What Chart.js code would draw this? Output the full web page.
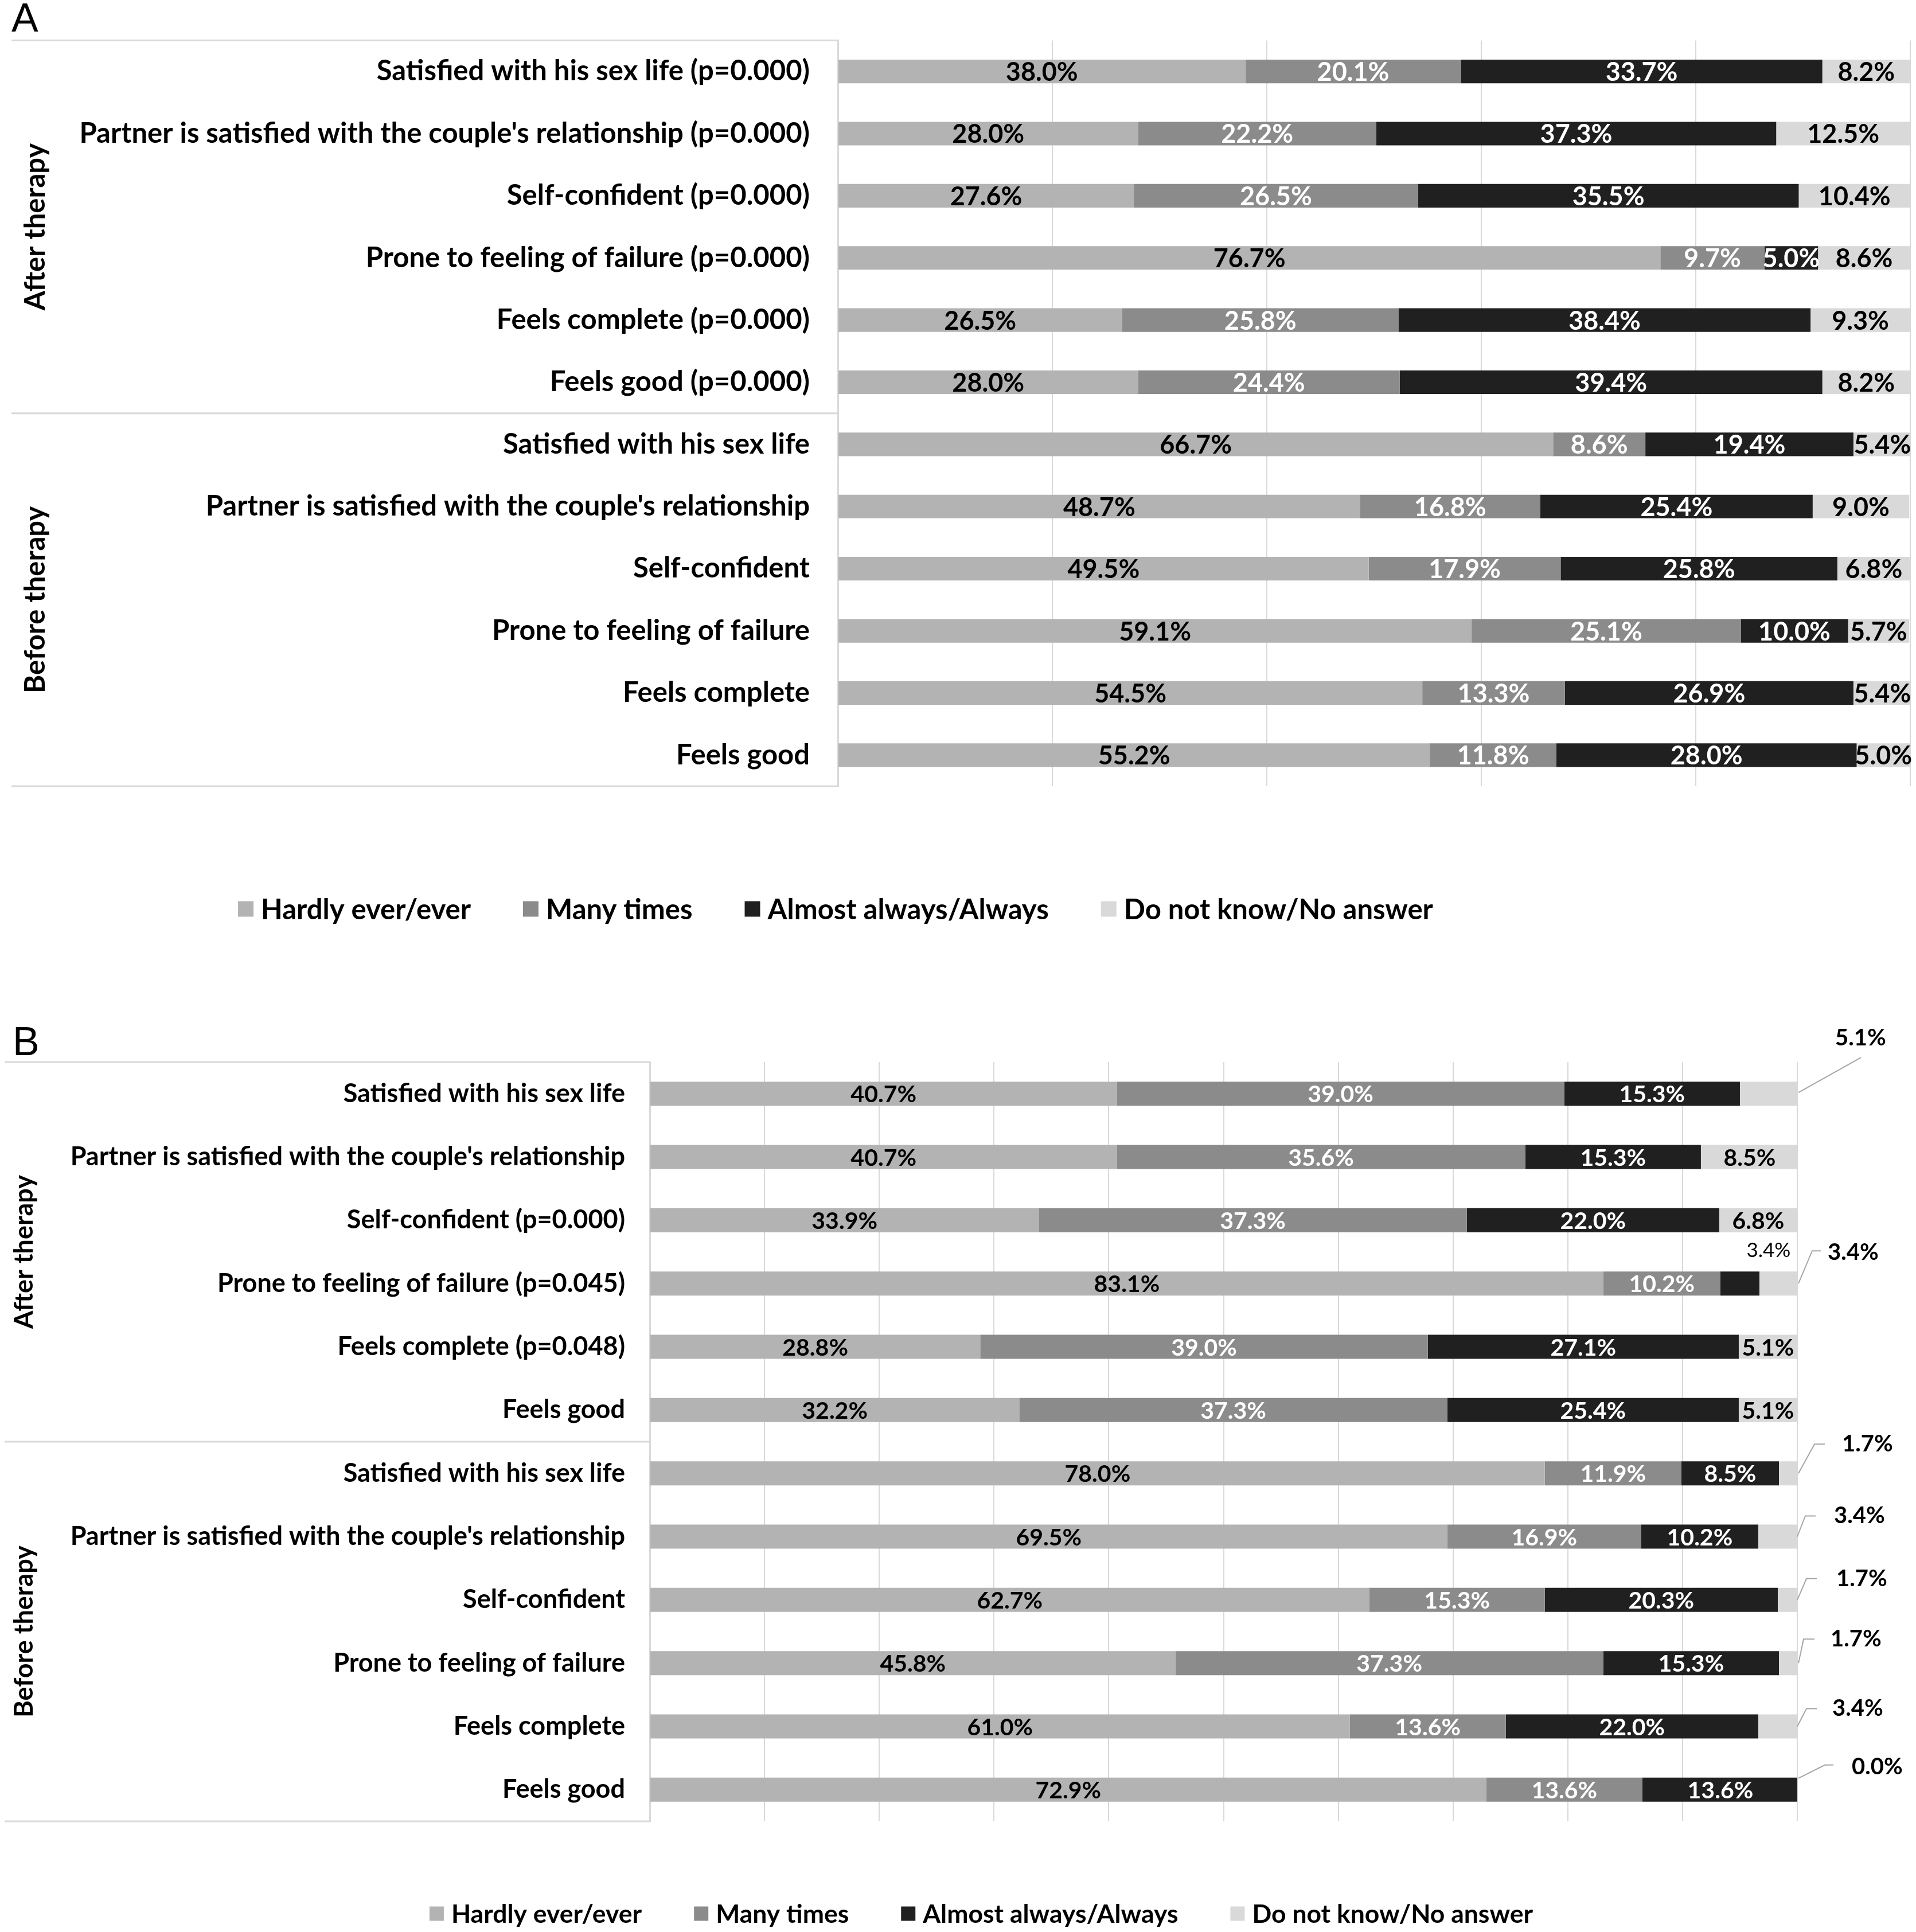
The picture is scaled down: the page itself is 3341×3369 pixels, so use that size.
<!DOCTYPE html>
<html>
<head>
<meta charset="utf-8">
<script src="https://cdn.jsdelivr.net/npm/chart.js@4.4.1/dist/chart.umd.min.js"></script>
<style>
    html, body { margin: 0; padding: 0; background: #fff; }
    body { width: 3341px; height: 3369px; position: relative; overflow: hidden; }
    canvas { position: absolute; left: 0; }
    #chart-a { top: 0; }
    #chart-b { top: 1700px; }
</style>
</head>
<body>
<canvas id="chart-a" width="3341" height="1700"></canvas>
<canvas id="chart-b" width="3341" height="1669"></canvas>
<script>
// 1. Data
const groups = ['After therapy', 'Before therapy'];
const seriesNames = ['Hardly ever/ever', 'Many times', 'Almost always/Always', 'Do not know/No answer'];

const labelsA = [
    'Satisfied with his sex life (p=0.000)',
    "Partner is satisfied with the couple's relationship (p=0.000)",
    'Self-confident (p=0.000)',
    'Prone to feeling of failure (p=0.000)',
    'Feels complete (p=0.000)',
    'Feels good (p=0.000)',
    'Satisfied with his sex life',
    "Partner is satisfied with the couple's relationship",
    'Self-confident',
    'Prone to feeling of failure',
    'Feels complete',
    'Feels good'
];
const hardlyA = [38.0, 28.0, 27.6, 76.7, 26.5, 28.0, 66.7, 48.7, 49.5, 59.1, 54.5, 55.2];
const manyA   = [20.1, 22.2, 26.5, 9.7, 25.8, 24.4, 8.6, 16.8, 17.9, 25.1, 13.3, 11.8];
const almostA = [33.7, 37.3, 35.5, 5.0, 38.4, 39.4, 19.4, 25.4, 25.8, 10.0, 26.9, 28.0];
const dnkA    = [8.2, 12.5, 10.4, 8.6, 9.3, 8.2, 5.4, 9.0, 6.8, 5.7, 5.4, 5.0];

const labelsB = [
    'Satisfied with his sex life',
    "Partner is satisfied with the couple's relationship",
    'Self-confident (p=0.000)',
    'Prone to feeling of failure (p=0.045)',
    'Feels complete (p=0.048)',
    'Feels good',
    'Satisfied with his sex life',
    "Partner is satisfied with the couple's relationship",
    'Self-confident',
    'Prone to feeling of failure',
    'Feels complete',
    'Feels good'
];
const hardlyB = [40.7, 40.7, 33.9, 83.1, 28.8, 32.2, 78.0, 69.5, 62.7, 45.8, 61.0, 72.9];
const manyB   = [39.0, 35.6, 37.3, 10.2, 39.0, 37.3, 11.9, 16.9, 15.3, 37.3, 13.6, 13.6];
const almostB = [15.3, 15.3, 22.0, 3.4, 27.1, 25.4, 8.5, 10.2, 20.3, 15.3, 22.0, 13.6];
const dnkB    = [5.1, 8.5, 6.8, 3.4, 5.1, 5.1, 1.7, 3.4, 1.7, 1.7, 3.4, 0.0];

// 2. Styles
const seriesColors = ['#b3b3b3', '#8b8b8b', '#202020', '#d9d9d9'];
const labelColors = ['#000000', '#ffffff', '#ffffff', '#000000'];
const FONT = 'Lato, "Open Sans", sans-serif';

const fmt = v => v.toFixed(1) + '%';

// 3. Plugins
const segLabels = {
    id: 'segLabels',
    afterDatasetsDraw(chart, args, o) {
        const ctx = chart.ctx;
        ctx.save();
        ctx.textAlign = 'center';
        ctx.textBaseline = 'middle';
        ctx.font = `bold ${o.size}px ${FONT}`;
        const isCallout = (ds, row) => (o.callouts || []).some(c => c.ds === ds && c.row === row)
            || (o.small || []).some(c => c.ds === ds && c.row === row);

        chart.data.datasets.forEach((ds, i) => {
            chart.getDatasetMeta(i).data.forEach((bar, j) => {
                if (isCallout(i, j)) return;
                ctx.fillStyle = labelColors[i];
                ctx.fillText(fmt(ds.data[j]), (bar.x + bar.base) / 2, bar.y + 2);
            });
        });

        // labels moved outside the bar, with leader lines
        (o.callouts || []).forEach(c => {
            const bar = chart.getDatasetMeta(c.ds).data[c.row];
            ctx.strokeStyle = '#a6a6a6';
            ctx.lineWidth = 2;
            ctx.beginPath();
            c.pts.forEach(([dx, dy], k) => {
                if (k === 0) ctx.moveTo(bar.x + dx, bar.y + dy);
                else ctx.lineTo(bar.x + dx, bar.y + dy);
            });
            ctx.stroke();
            ctx.fillStyle = '#000';
            ctx.textAlign = 'left';
            ctx.font = `bold ${o.calloutSize}px ${FONT}`;
            ctx.fillText(fmt(chart.data.datasets[c.ds].data[c.row]), bar.x + c.lx, bar.y + c.ly);
        });

        (o.small || []).forEach(c => {
            const bar = chart.getDatasetMeta(c.ds).data[c.row];
            ctx.fillStyle = '#000';
            ctx.textAlign = 'center';
            ctx.font = `${o.smallSize}px ${FONT}`;
            ctx.fillText(fmt(chart.data.datasets[c.ds].data[c.row]), bar.x + c.dx, bar.y + c.dy);
        });
        ctx.restore();
    }
};

const panelDeco = {
    id: 'panelDeco',
    afterDraw(chart, args, o) {
        const { ctx, chartArea: ca, scales: { y } } = chart;
        ctx.save();

        // panel letter
        ctx.fillStyle = '#000';
        ctx.font = `${o.letterSize}px "Liberation Sans", Arial, sans-serif`;
        ctx.textAlign = 'left';
        ctx.textBaseline = 'alphabetic';
        ctx.fillText(o.letter, o.letterX, o.letterY);

        // category group box
        const split = (y.getPixelForTick(5) + y.getPixelForTick(6)) / 2;
        ctx.strokeStyle = '#d9d9d9';
        ctx.lineWidth = 3;
        [ca.top, split, ca.bottom].forEach(py => {
            ctx.beginPath();
            ctx.moveTo(o.boxLeft, py);
            ctx.lineTo(ca.left, py);
            ctx.stroke();
        });

        // group labels
        ctx.font = `bold ${o.groupSize}px ${FONT}`;
        ctx.textAlign = 'center';
        ctx.textBaseline = 'middle';
        [[ca.top, split], [split, ca.bottom]].forEach(([a, b], i) => {
            ctx.save();
            ctx.translate(o.groupX, (a + b) / 2);
            ctx.rotate(-Math.PI / 2);
            ctx.fillText(groups[i], 0, 0);
            ctx.restore();
        });

        // legend
        ctx.font = `bold ${o.legendSize}px ${FONT}`;
        ctx.textAlign = 'left';
        const box = o.legendBox, boxGap = 13, itemGap = 91;
        const widths = seriesNames.map(n => ctx.measureText(n).width);
        const total = widths.reduce((s, w) => s + box + boxGap + w, 0) + itemGap * (seriesNames.length - 1);
        let x = o.legendCx - total / 2;
        seriesNames.forEach((name, i) => {
            ctx.fillStyle = seriesColors[i];
            ctx.fillRect(x, o.legendY - box / 2, box, box);
            ctx.fillStyle = '#000';
            ctx.fillText(name, x + box + boxGap, o.legendY + 2);
            x += box + boxGap + widths[i] + itemGap;
        });

        ctx.restore();
    }
};

// 4. Chart builder
function buildPanel(canvasId, p) {
    const datasets = p.series.map((data, i) => ({
        label: seriesNames[i],
        data: data,
        backgroundColor: seriesColors[i],
        borderWidth: 0,
        categoryPercentage: 1,
        barPercentage: 0.38
    }));

    return new Chart(document.getElementById(canvasId), {
        type: 'bar',
        data: { labels: p.labels, datasets: datasets },
        plugins: [segLabels, panelDeco],
        options: {
            indexAxis: 'y',
            responsive: false,
            animation: false,
            devicePixelRatio: 1,
            layout: { padding: { top: p.top, right: p.right, left: 0, bottom: 0 } },
            plugins: {
                legend: { display: false },
                tooltip: { enabled: false },
                segLabels: p.segLabels,
                panelDeco: p.deco
            },
            scales: {
                x: {
                    stacked: true,
                    min: 0,
                    max: 100,
                    ticks: { display: false, stepSize: p.step },
                    grid: { color: '#d9d9d9', lineWidth: 2, drawTicks: false },
                    border: { display: false },
                    afterFit(s) { s.height = p.xAxisH; }
                },
                y: {
                    stacked: true,
                    grid: { display: false },
                    border: { color: '#d9d9d9', width: 3 },
                    ticks: {
                        autoSkip: false,
                        color: '#000',
                        padding: p.tickPad,
                        font: { family: FONT, weight: 'bold', size: p.catSize }
                    },
                    afterFit(s) { s.width = p.axisLeft; }
                }
            }
        }
    });
}

function init() {
    buildPanel('chart-a', {
        labels: labelsA,
        series: [hardlyA, manyA, almostA, dnkA],
        top: 68, right: 10, xAxisH: 329, axisLeft: 1461, tickPad: 41, catSize: 49, step: 20,
        segLabels: { size: 45 },
        deco: {
            letter: 'A', letterX: 20, letterY: 55, letterSize: 70,
            boxLeft: 20, groupX: 62, groupSize: 49,
            legendCx: 1457, legendY: 1585, legendSize: 49, legendBox: 27
        }
    });

    buildPanel('chart-b', {
        labels: labelsB,
        series: [hardlyB, manyB, almostB, dnkB],
        top: 152, right: 207, xAxisH: 193, axisLeft: 1133, tickPad: 35, catSize: 45, step: 10,
        segLabels: {
            size: 41, calloutSize: 40, smallSize: 35,
            small: [{ ds: 2, row: 3, dx: 16, dy: -57 }],
            callouts: [
                { ds: 3, row: 0, lx: 64, ly: -97, pts: [[0, -2], [109, -63]] },
                { ds: 3, row: 3, lx: 51, ly: -54, pts: [[0, 0], [24, -57], [39, -57]] },
                { ds: 3, row: 6, lx: 76, ly: -51, pts: [[0, 0], [28, -51], [46, -51]] },
                { ds: 3, row: 7, lx: 64, ly: -36, pts: [[0, 0], [14, -36], [32, -36]] },
                { ds: 3, row: 8, lx: 68, ly: -37, pts: [[0, 0], [16, -37], [34, -37]] },
                { ds: 3, row: 9, lx: 56, ly: -42, pts: [[0, 0], [9, -42], [28, -42]] },
                { ds: 3, row: 10, lx: 61, ly: -31, pts: [[0, 0], [16, -31], [34, -31]] },
                { ds: 3, row: 11, lx: 93, ly: -40, pts: [[0, -20], [46, -43], [61, -43]] }
            ]
        },
        deco: {
            letter: 'B', letterX: 22, letterY: 140, letterSize: 70,
            boxLeft: 8, groupX: 42, groupSize: 45,
            legendCx: 1711, legendY: 1637, legendSize: 44.5, legendBox: 25
        }
    });
}

const fontLoads = ['bold 50px Lato', '35px Lato'].map(f => document.fonts.load(f).catch(() => null));
Promise.all(fontLoads).then(init, init);
</script>
</body>
</html>
